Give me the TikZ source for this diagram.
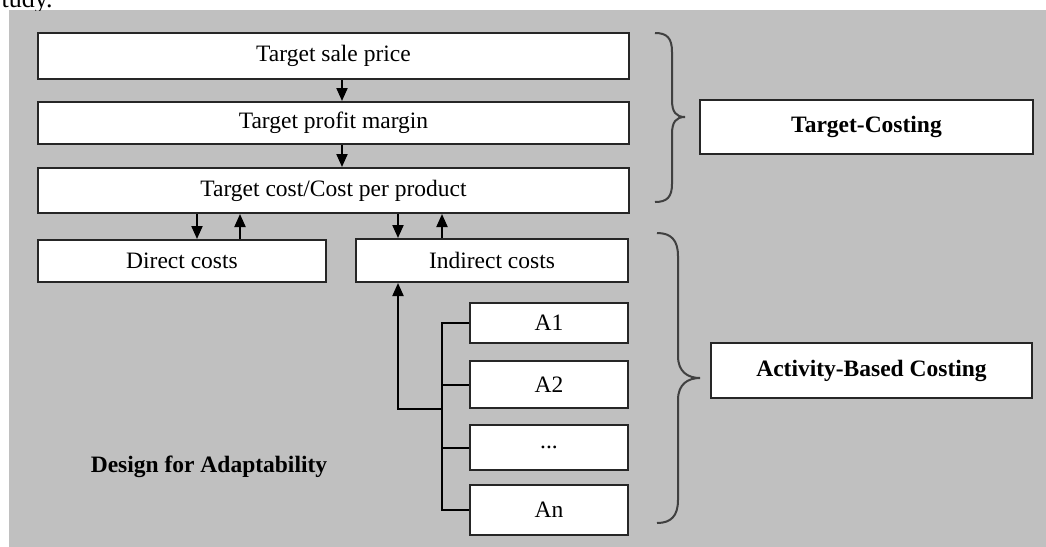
\documentclass[tikz,border=0pt]{standalone}
\usepackage{fontspec}
\setmainfont{Liberation Serif}
\usetikzlibrary{arrows.meta}
\begin{document}
\begin{tikzpicture}[x=0.5pt,y=-0.5pt,
  box/.style={draw=black!85, line width=1pt, fill=white, inner sep=0pt, align=center,
    font=\fontsize{11.75}{14}\selectfont},
  boldbox/.style={box, font=\fontsize{11.75}{14}\selectfont\bfseries},
  arr/.style={line width=1pt, -{Triangle[width=5.5pt,length=6.5pt]}},
  conn/.style={line width=1pt},
  bracestyle/.style={draw=black!75, line width=1pt}]
\useasboundingbox (0,0) rectangle (1046,547);
\fill[white] (0,0) rectangle (1046,547);
\fill[fill={rgb,255:red,192;green,192;blue,192}] (9,10) rectangle (1046,547);
% clipped fragment of page text
\begin{scope}
\clip (0,0) rectangle (1046,10);
\node[anchor=base east, inner sep=0pt, font=\fontsize{13}{15}\selectfont] (frag) at (53,7) {tudy.};
\end{scope}
% main chain
\node[box, minimum width=295.5pt, minimum height=23pt] (b1) at (333.5,56) {\raisebox{-1.5pt}{Target sale price}};
\node[box, minimum width=295.5pt, minimum height=21pt] (b2) at (333.5,123) {\raisebox{-2pt}{Target profit margin}};
\node[box, minimum width=295.5pt, minimum height=22.5pt] (b3) at (333.5,190.5) {\raisebox{-1pt}{Target cost/Cost per product}};
\node[box, minimum width=144pt, minimum height=21pt] (dc) at (182,261) {Direct costs};
\node[box, minimum width=136pt, minimum height=21.5pt] (ic) at (492,260.5) {Indirect costs};
\node[box, minimum width=79pt, minimum height=20pt] (a1) at (549,323) {A1};
\node[box, minimum width=79pt, minimum height=23.5pt] (a2) at (549,384.5) {A2};
\node[box, minimum width=79pt, minimum height=22.5pt] (ad) at (549,447.5) {...};
\node[box, minimum width=79pt, minimum height=25pt] (an) at (549,510) {An};
\node[boldbox, minimum width=166.5pt, minimum height=27pt] (tc) at (866.5,127) {Target-Costing};
\node[boldbox, minimum width=160.5pt, minimum height=27.5pt] (abc) at (871.5,370.5) {Activity-Based Costing};
\node[font=\fontsize{11.75}{14}\selectfont\bfseries, inner sep=0pt] (dfa) at (209,467) {Design for Adaptability};
% helper coordinates
\coordinate (x342) at (342,0);
\coordinate (x197) at (197,0);
\coordinate (x240) at (240,0);
\coordinate (x398) at (398,0);
\coordinate (x442) at (442,0);
\coordinate (jn) at (442,409);
% arrows
\draw[arr] (b1.south -| x342) -- (b2.north -| x342);
\draw[arr] (b2.south -| x342) -- (b3.north -| x342);
\draw[arr] (b3.south -| x197) -- (dc.north -| x197);
\draw[arr] (dc.north -| x240) -- (b3.south -| x240);
\draw[arr] (b3.south -| x398) -- (ic.north -| x398);
\draw[arr] (ic.north -| x442) -- (b3.south -| x442);
% activity bus
\draw[conn] (a1.west) -- (a1.west -| x442) -- (an.west -| x442) -- (an.west);
\draw[conn] (a2.west) -- (a2.west -| x442);
\draw[conn] (ad.west) -- (ad.west -| x442);
\draw[arr] (jn) -- (jn -| x398) -- (ic.south -| x398);
% braces
\draw[bracestyle] (655,33) .. controls (667,33) and (672,38) .. (672,52) -- (672,100)
  .. controls (672,112) and (676,117) .. (685,117)
  .. controls (676,117) and (672,122) .. (672,134) -- (672,184)
  .. controls (672,197) and (667,202) .. (655,202);
\draw[bracestyle] (657,233) .. controls (671,233) and (678,240) .. (678,256) -- (678,356)
  .. controls (678,372) and (688,378) .. (700,378)
  .. controls (688,378) and (678,384) .. (678,400) -- (678,500)
  .. controls (678,516) and (671,523) .. (657,523);
\end{tikzpicture}
\end{document}
